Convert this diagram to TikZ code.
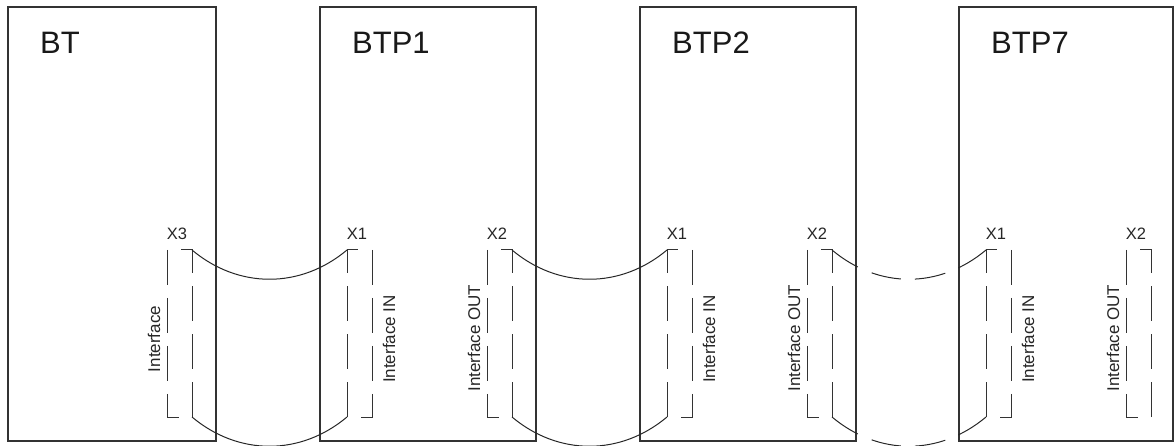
\documentclass[tikz,border=0pt]{standalone}
\usepackage{fontspec}
\setmainfont{Liberation Sans}
\usetikzlibrary{positioning}

\begin{document}
\begin{tikzpicture}[x=1pt, y=-1pt,
    box/.style={draw=black!80, line width=1.1pt, inner sep=0pt, outer sep=0pt, minimum width=216pt, minimum height=434pt},
    title/.style={inner sep=0pt, anchor=base west, text=black!90, font=\fontsize{31}{36}\selectfont},
    port/.style={draw=black!80, line width=1pt, dash pattern=on 35pt off 13pt},
    link/.style={draw=black!85, line width=1pt},
    portname/.style={inner sep=0pt, anchor=base, text=black!85, font=\fontsize{16.5}{20}\selectfont},
    portside/.style={inner sep=0pt, rotate=90, text=black!85, font=\fontsize{17}{20}\selectfont}]
    \useasboundingbox (0,0) rectangle (1176,446);

    % boxes
    \node[box, minimum width=208pt, anchor=north west] (bt) at (8,7) {};
    \node[box, right=104pt of bt] (btp1) {};
    \node[box, right=104pt of btp1] (btp2) {};
    \node[box, minimum width=214pt, right=103pt of btp2] (btp7) {};

    \node[title] (bt-title) at ([xshift=32pt, yshift=-46.5pt]bt.north west) {BT};
    \node[title] (btp1-title) at ([xshift=32pt, yshift=-46.5pt]btp1.north west) {BTP1};
    \node[title] (btp2-title) at ([xshift=32pt, yshift=-46.5pt]btp2.north west) {BTP2};
    \node[title] (btp7-title) at ([xshift=32pt, yshift=-46.5pt]btp7.north west) {BTP7};

    % ports (top and bottom of the inner line)
    \coordinate (bt-x3) at ([xshift=184pt, yshift=-243pt]bt.north west);
    \coordinate (btp1-x1) at ([xshift=27pt, yshift=-243pt]btp1.north west);
    \coordinate (btp1-x2) at ([xshift=192pt, yshift=-243pt]btp1.north west);
    \coordinate (btp2-x1) at ([xshift=27pt, yshift=-243pt]btp2.north west);
    \coordinate (btp2-x2) at ([xshift=192pt, yshift=-243pt]btp2.north west);
    \coordinate (btp7-x1) at ([xshift=27pt, yshift=-243pt]btp7.north west);
    \coordinate (btp7-x2) at ([xshift=192pt, yshift=-243pt]btp7.north west);

    \coordinate (bt-x3-b) at ([yshift=-167pt]bt-x3);
    \coordinate (btp1-x1-b) at ([yshift=-167pt]btp1-x1);
    \coordinate (btp1-x2-b) at ([yshift=-167pt]btp1-x2);
    \coordinate (btp2-x1-b) at ([yshift=-167pt]btp2-x1);
    \coordinate (btp2-x2-b) at ([yshift=-167pt]btp2-x2);
    \coordinate (btp7-x1-b) at ([yshift=-167pt]btp7-x1);
    \coordinate (btp7-x2-b) at ([yshift=-167pt]btp7-x2);

    \draw[port] (bt-x3-b) -- (bt-x3) -- ++(-11,0);
    \draw[port] ([xshift=-25pt]bt-x3) -- ++(0,167) -- ++(12,0);
    \draw[port] (btp1-x1-b) -- (btp1-x1) -- ++(11,0);
    \draw[port] ([xshift=25pt]btp1-x1) -- ++(0,167) -- ++(-11,0);
    \draw[port] (btp1-x2-b) -- (btp1-x2) -- ++(-11,0);
    \draw[port] ([xshift=-25pt]btp1-x2) -- ++(0,167) -- ++(12,0);
    \draw[port] (btp2-x1-b) -- (btp2-x1) -- ++(11,0);
    \draw[port] ([xshift=25pt]btp2-x1) -- ++(0,167) -- ++(-11,0);
    \draw[port] (btp2-x2-b) -- (btp2-x2) -- ++(-11,0);
    \draw[port] ([xshift=-25pt]btp2-x2) -- ++(0,167) -- ++(12,0);
    \draw[port] (btp7-x1-b) -- (btp7-x1) -- ++(11,0);
    \draw[port] ([xshift=25pt]btp7-x1) -- ++(0,167) -- ++(-11,0);
    \draw[port] (btp7-x2-b) -- (btp7-x2) -- ++(-11,0);
    \draw[port] ([xshift=-25pt]btp7-x2) -- ++(0,167) -- ++(12,0);

    \node[portname] (bt-x3-name) at ([xshift=-15pt, yshift=10pt]bt-x3) {X3};
    \node[portname] (btp1-x1-name) at ([xshift=10pt, yshift=10pt]btp1-x1) {X1};
    \node[portname] (btp1-x2-name) at ([xshift=-15pt, yshift=10pt]btp1-x2) {X2};
    \node[portname] (btp2-x1-name) at ([xshift=10pt, yshift=10pt]btp2-x1) {X1};
    \node[portname] (btp2-x2-name) at ([xshift=-15pt, yshift=10pt]btp2-x2) {X2};
    \node[portname] (btp7-x1-name) at ([xshift=10pt, yshift=10pt]btp7-x1) {X1};
    \node[portname] (btp7-x2-name) at ([xshift=-15pt, yshift=10pt]btp7-x2) {X2};

    \node[portside] (bt-x3-side) at ([xshift=-38pt, yshift=-89pt]bt-x3) {Interface};
    \node[portside] (btp1-x1-side) at ([xshift=42pt, yshift=-89pt]btp1-x1) {Interface IN};
    \node[portside] (btp1-x2-side) at ([xshift=-38pt, yshift=-88pt]btp1-x2) {Interface OUT};
    \node[portside] (btp2-x1-side) at ([xshift=42pt, yshift=-89pt]btp2-x1) {Interface IN};
    \node[portside] (btp2-x2-side) at ([xshift=-38pt, yshift=-88pt]btp2-x2) {Interface OUT};
    \node[portside] (btp7-x1-side) at ([xshift=42pt, yshift=-89pt]btp7-x1) {Interface IN};
    \node[portside] (btp7-x2-side) at ([xshift=-38pt, yshift=-88pt]btp7-x2) {Interface OUT};

    % cables
    \draw[link] (bt-x3) .. controls +(46.5,39) and +(-46.5,39) .. (btp1-x1);
    \draw[link] (bt-x3-b) .. controls +(46.5,39) and +(-46.5,39) .. (btp1-x1-b);
    \draw[link] (btp1-x2) .. controls +(46.5,39) and +(-46.5,39) .. (btp2-x1);
    \draw[link] (btp1-x2-b) .. controls +(46.5,39) and +(-46.5,39) .. (btp2-x1-b);
    \draw[link, dash pattern=on 31pt off 15pt on 30pt off 14pt on 31pt off 14pt on 40pt] (btp2-x2) .. controls +(46.5,39) and +(-46.5,39) .. (btp7-x1);
    \draw[link, dash pattern=on 31pt off 15pt on 30pt off 14pt on 31pt off 14pt on 40pt] (btp2-x2-b) .. controls +(46.5,39) and +(-46.5,39) .. (btp7-x1-b);
\end{tikzpicture}
\end{document}
